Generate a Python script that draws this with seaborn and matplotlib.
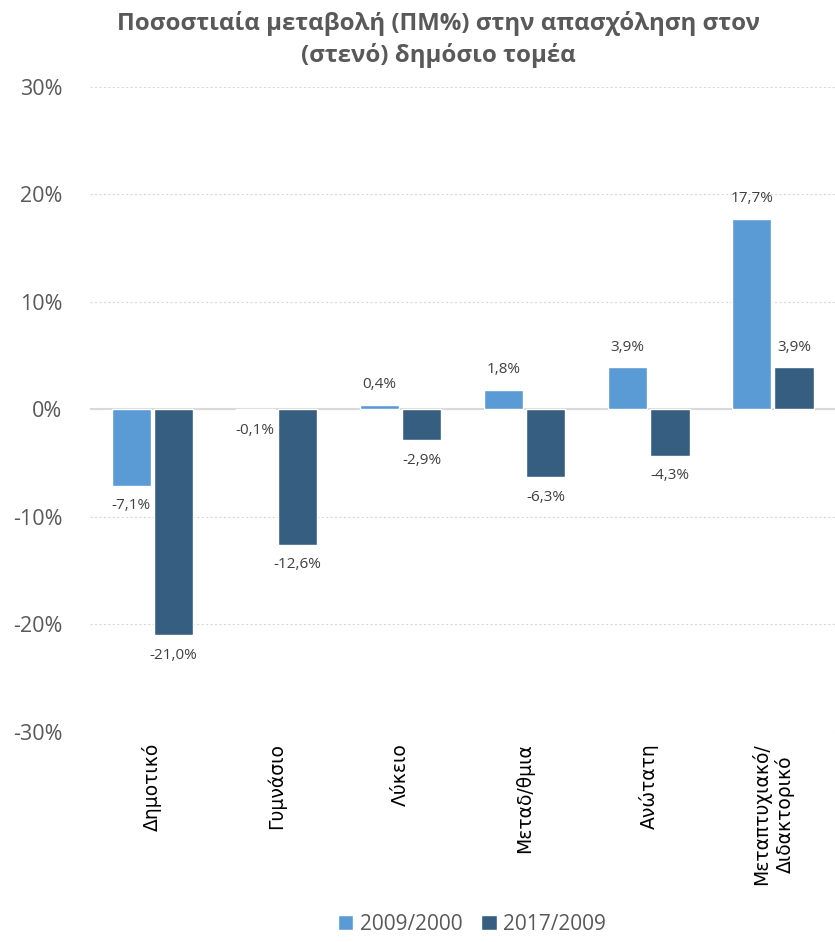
import pandas as pd
import matplotlib.pyplot as plt
import seaborn as sns
from matplotlib.patches import Patch

# Δεδομένα
categories = ['Δημοτικό', 'Γυμνάσιο', 'Λύκειο', 'Μεταδ/θμια', 'Ανώτατη',
              'Μεταπτυχιακό/\nΔιδακτορικό']
series_names = ['2009/2000', '2017/2009']
values_2009_2000 = [-7.1, -0.1, 0.4, 1.8, 3.9, 17.7]
values_2017_2009 = [-21.0, -12.6, -2.9, -6.3, -4.3, 3.9]
y_ticks = [-30, -20, -10, 0, 10, 20, 30]

colors = ['#5B9BD5', '#365E80']

df = pd.DataFrame({
    'category': categories * 2,
    'period': [series_names[0]] * len(categories) + [series_names[1]] * len(categories),
    'value': values_2009_2000 + values_2017_2009,
})

sns.set_style('white')
plt.rcParams['font.family'] = ['Open Sans', 'DejaVu Sans']

fig = plt.figure(figsize=(8.35, 9.42), dpi=100)
ax = fig.add_axes([0.108, 0.223, 0.892, 0.685])

sns.barplot(data=df, x='category', y='value', hue='period', palette=colors,
            order=categories, hue_order=series_names, errorbar=None,
            width=0.68, gap=0.07, saturation=1, ax=ax, legend=False, zorder=3)

# Ετικέτες τιμών
for container in ax.containers:
    labels = [f"{v:.1f}%".replace('.', ',') for v in container.datavalues]
    ax.bar_label(container, labels=labels, padding=9, fontsize=11,
                 color='#404040', family=['Open Sans', 'DejaVu Sans'])

ax.set_ylim(-30, 30)
ax.set_yticks(y_ticks)
ax.set_yticklabels([f"{t}%" for t in y_ticks], fontsize=15.5, color='#595959')
ax.set_xlabel('')
ax.set_ylabel('')
ax.tick_params(axis='x', length=0, pad=8)
ax.tick_params(axis='y', length=0, pad=20)
for lbl in ax.get_xticklabels():
    lbl.set_rotation(90)
    lbl.set_fontsize(13.5)
    lbl.set_family('DejaVu Sans')
    lbl.set_color('black')
    lbl.set_va('top')
    lbl.set_ha('center')
    lbl.set_multialignment('center')

ax.grid(axis='y', color='#D9D9D9', linestyle=(0, (2, 2)), linewidth=0.8, zorder=0)
ax.axhline(0, color='#D9D9D9', linewidth=1.5, zorder=2)
for s in ax.spines.values():
    s.set_visible(False)

fig.suptitle('Ποσοστιαία μεταβολή (ΠΜ%) στην απασχόληση στον\n(στενό) δημόσιο τομέα',
             x=0.525, y=0.988, fontsize=17.3, fontweight='bold', color='#595959',
             linespacing=1.35)

handles = [Patch(facecolor=c, label=n) for c, n in zip(colors, series_names)]
fig.legend(handles=handles, loc='lower center', bbox_to_anchor=(0.565, -0.012),
           ncol=2, frameon=False, fontsize=15, handlelength=0.75,
           handleheight=0.75, handletextpad=0.3, columnspacing=0.9,
           labelcolor='#595959')

fig.savefig('out.png', dpi=100)
